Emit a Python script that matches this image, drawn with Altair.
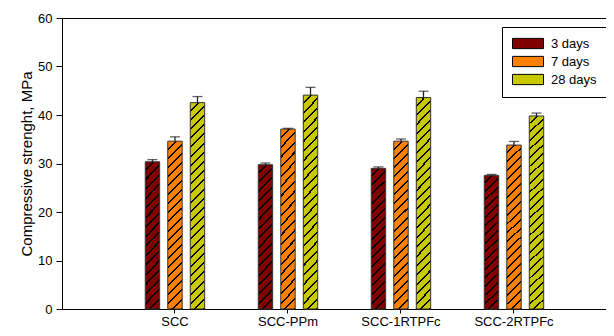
import altair as alt
import pandas as pd

# ---- data ----
groups = ["SCC", "SCC-PPm", "SCC-1RTPFc", "SCC-2RTPFc"]
ages = ["3 days", "7 days", "28 days"]
mean_3 = [30.35, 29.75, 29.0, 27.55]
mean_7 = [34.6, 37.1, 34.6, 33.8]
mean_28 = [42.55, 44.1, 43.6, 39.8]
err_3 = [0.45, 0.35, 0.3, 0.2]
err_7 = [0.9, 0.15, 0.45, 0.75]
err_28 = [1.25, 1.6, 1.3, 0.6]
colors = ["#800000", "#ff8000", "#c8c800"]

means = {"3 days": mean_3, "7 days": mean_7, "28 days": mean_28}
errs = {"3 days": err_3, "7 days": err_7, "28 days": err_28}
rows = []
for a in ages:
    for g, m, e in zip(groups, means[a], errs[a]):
        rows.append({"Group": g, "Age": a, "Value": m, "Err": e})
df = pd.DataFrame(rows)

FONT = "Liberation Sans"


def hatch(color, h, w=14.5, period=9.0, frac=0.22):
    """Diagonal hatch pattern as a striped linear gradient (style only)."""
    r = h / w
    a = (1 + r) / (1 + r * r)
    b = r * a
    n = max(1, round((h + w) / period))
    stops = []
    for k in range(n):
        o0 = k / n
        o1 = (k + 1 - frac) / n
        o2 = (k + 1) / n
        stops += [
            {"offset": o0, "color": color},
            {"offset": o1, "color": color},
            {"offset": o1, "color": "#000000"},
            {"offset": o2, "color": "#000000"},
        ]
    return {"gradient": "linear", "x1": 0, "y1": 0, "x2": a, "y2": b, "stops": stops}


bar_heights = [142, 170, 206]
conds = [
    {"test": f"datum.Age === '{a}'", "value": hatch(c, h)}
    for a, c, h in zip(ages, colors, bar_heights)
]
legend_fill = [
    {"test": f"datum.value === '{a}'", "value": hatch(c, 10.3, w=31, period=9.0, frac=0.18)}
    for a, c in zip(ages, colors)
]

xscale = alt.Scale(domain=groups, paddingInner=0.474, paddingOuter=0.644, align=0.572)
xoff = alt.XOffset("Age:N", sort=ages,
                   scale=alt.Scale(domain=ages, paddingInner=0.36, paddingOuter=0))
yscale = alt.Scale(domain=[0, 60], nice=False)
yaxis = alt.Axis(values=[0, 10, 20, 30, 40, 50, 60], title="Compressive strenght, MPa",
                 grid=False, tickSize=6, labelPadding=4, titlePadding=3)

legend_kw = dict(title=None, orient="none", legendX=440, legendY=9,
                 symbolType="M-1,-0.33H1V0.33H-1Z", symbolSize=961,
                 clipHeight=13,
                 labelFont=FONT, labelFontSize=13, labelOffset=7,
                 padding=10, rowPadding=4, strokeColor="black",
                 fillColor="white", symbolStrokeColor="black",
                 symbolStrokeWidth=1, symbolOpacity=1)


def build(legend):
    base = alt.Chart(df)
    bars = base.mark_bar(stroke="#333333", strokeWidth=1).encode(
        x=alt.X("Group:N", sort=groups, scale=xscale,
                axis=alt.Axis(title=None, tickSize=4, labelPadding=2, labelAngle=0)),
        xOffset=xoff,
        y=alt.Y("Value:Q", scale=yscale, axis=yaxis),
        fill=alt.Fill("Age:N", sort=ages, scale=alt.Scale(domain=ages, range=colors),
                      condition=conds, legend=legend),
    )
    rules = base.transform_calculate(Upper="datum.Value + datum.Err").mark_rule(
        color="#222222", strokeWidth=1.3).encode(
        x=alt.X("Group:N", sort=groups, scale=xscale,
                axis=alt.Axis(orient="top", labels=False, ticks=False, title=None, domain=True)),
        xOffset=xoff,
        y=alt.Y("Value:Q", scale=yscale, axis=yaxis),
        y2="Upper:Q",
    )
    caps = base.transform_calculate(Upper="datum.Value + datum.Err").mark_tick(
        color="#222222", size=10, thickness=1.3).encode(
        x=alt.X("Group:N", sort=groups, scale=xscale, axis=None),
        xOffset=xoff,
        y=alt.Y("Upper:Q", scale=yscale, axis=yaxis),
    )
    return alt.layer(bars, rules, caps).resolve_axis(x="independent").properties(
        width=598, height=320,
        autosize=alt.AutoSizeParams(type="fit", contains="padding"),
        padding={"left": 11, "top": 4, "right": 0, "bottom": 0},
        background="white",
    ).configure_view(stroke=None).configure_axis(
        labelFont=FONT, labelFontSize=13, labelColor="black",
        titleFont=FONT, titleFontSize=15, titleFontWeight="normal", titleColor="black",
        domainColor="black", tickColor="black", domainWidth=1, tickWidth=1,
    )


try:
    chart = build(alt.Legend(encode={"symbols": {"update": {"fill": legend_fill}}}, **legend_kw))
    chart.to_dict()
except Exception:
    chart = build(alt.Legend(**legend_kw))

chart.save("out.html", embed_options={"renderer": "svg", "actions": False})
